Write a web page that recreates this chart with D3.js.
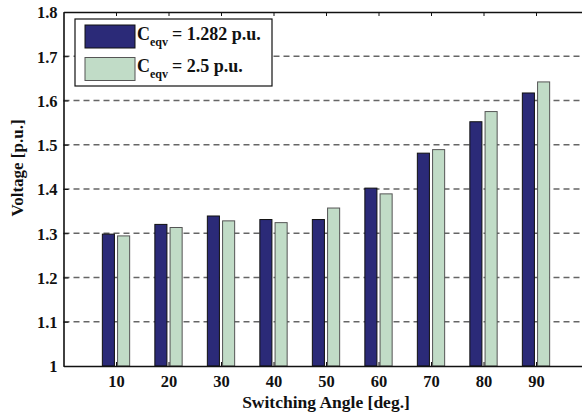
<!DOCTYPE html>
<html>
<head>
<meta charset="utf-8">
<script src="https://cdn.jsdelivr.net/npm/d3@7"></script>
<style>
  body { margin: 0; background: #fff; }
  svg text { font-family: "Liberation Serif", "Times New Roman", serif; font-weight: bold; fill: #111; }
</style>
</head>
<body>
<svg id="chart" width="582" height="415"></svg>
<script>
// Chart data
var angles = [10, 20, 30, 40, 50, 60, 70, 80, 90];
var voltageLow = [1.298, 1.320, 1.339, 1.331, 1.331, 1.402, 1.481, 1.552, 1.617]; // C_eqv = 1.282 p.u.
var voltageHigh = [1.294, 1.313, 1.328, 1.324, 1.357, 1.389, 1.489, 1.575, 1.642]; // C_eqv = 2.5 p.u.
var yTicks = [1, 1.1, 1.2, 1.3, 1.4, 1.5, 1.6, 1.7, 1.8];
var yTickLabels = ['1', '1.1', '1.2', '1.3', '1.4', '1.5', '1.6', '1.7', '1.8'];
var seriesNames = ['= 1.282 p.u.', '= 2.5 p.u.'];

// Plot box (right edge runs off the picture, like the original)
var margin = {left: 63.5, top: 12, right: 588.5, bottom: 366};

var svg = d3.select('#chart');

var x = d3.scaleLinear().domain([0, 100]).range([margin.left, margin.right]);
var y = d3.scaleLinear().domain([1, 1.8]).range([margin.bottom, margin.top]);

// Grid lines (dashed)
svg.append('g')
    .selectAll('line')
    .data(yTicks.slice(1, -1))
    .enter().append('line')
    .attr('x1', margin.left)
    .attr('x2', 582)
    .attr('y1', function(d){ return y(d); })
    .attr('y2', function(d){ return y(d); })
    .attr('stroke', '#666')
    .attr('stroke-width', 1.3)
    .attr('stroke-dasharray', '6,4');

// Bars
var offset = 1.45, barW = x(2.3) - x(0);
var series = [
    {values: voltageLow, fill: '#2b2a78', stroke: '#111', off: -offset},
    {values: voltageHigh, fill: '#c1dcc7', stroke: '#555', off: offset}
];

series.forEach(function(s){
    svg.append('g')
        .selectAll('rect')
        .data(angles)
        .enter().append('rect')
        .attr('x', function(d){ return x(d + s.off) - barW / 2; })
        .attr('y', function(d, i){ return y(s.values[i]); })
        .attr('width', barW)
        .attr('height', function(d, i){ return y(1) - y(s.values[i]); })
        .attr('fill', s.fill)
        .attr('stroke', s.stroke)
        .attr('stroke-width', 1);
});

// Axes
var yAxis = d3.axisLeft(y).tickValues(yTicks).tickFormat(function(d, i){ return yTickLabels[i]; })
    .tickSizeInner(-5).tickSizeOuter(0).tickPadding(6);
var gy = svg.append('g').attr('transform', 'translate(' + margin.left + ',0)').call(yAxis);

var xAxis = d3.axisBottom(x).tickValues(angles).tickSizeInner(-4).tickSizeOuter(0).tickPadding(9);
var gx = svg.append('g').attr('transform', 'translate(0,' + margin.bottom + ')').call(xAxis);

var xTop = d3.axisTop(x).tickValues(angles).tickSizeInner(-4).tickSizeOuter(0).tickFormat('');
var gt = svg.append('g').attr('transform', 'translate(0,' + margin.top + ')').call(xTop);

[gx, gy, gt].forEach(function(g){
    g.select('.domain').attr('stroke', '#111').attr('stroke-width', 1.6);
    g.selectAll('.tick line').attr('stroke', '#111').attr('stroke-width', 1);
    g.selectAll('.tick text').style('font-size', '16.5px').style('font-family', '"Liberation Serif", serif').style('font-weight', 'bold').attr('fill', '#111');
});
gy.selectAll('.tick text').attr('dy', '0.35em');

// Axis titles
svg.append('text')
    .attr('x', x(50))
    .attr('y', 408)
    .attr('text-anchor', 'middle')
    .style('font-size', '17.5px')
    .text('Switching Angle [deg.]');

svg.append('text')
    .attr('transform', 'translate(23,168) rotate(-90)')
    .attr('text-anchor', 'middle')
    .style('font-size', '17px')
    .text('Voltage [p.u.]');

// Legend
var legend = svg.append('g');
legend.append('rect')
    .attr('x', 75).attr('y', 19)
    .attr('width', 197).attr('height', 67)
    .attr('fill', '#fff').attr('stroke', '#111').attr('stroke-width', 1.2);

series.forEach(function(s, i){
    var row = legend.append('g').attr('transform', 'translate(0,' + (i * 32.5) + ')');
    row.append('rect')
        .attr('x', 85).attr('y', 25)
        .attr('width', 50).attr('height', 23)
        .attr('fill', s.fill).attr('stroke', s.stroke).attr('stroke-width', 1);
    var t = row.append('text').attr('x', 137).attr('y', 39.5).style('font-size', '18px');
    t.append('tspan').text('C');
    t.append('tspan').attr('dy', 6).style('font-size', '12px').text('eqv');
    t.append('tspan').attr('dy', -6).attr('dx', 4).text(seriesNames[i]);
});
</script>
</body>
</html>
